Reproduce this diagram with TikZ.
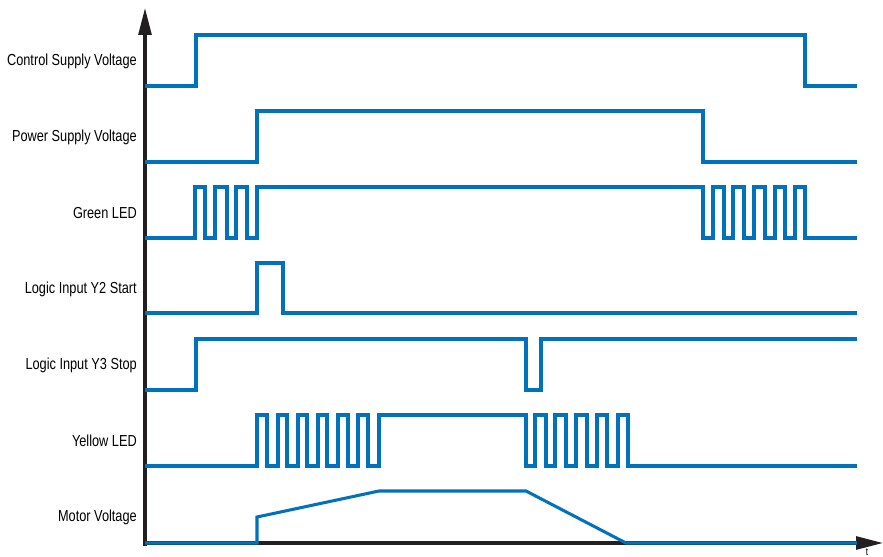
\documentclass[tikz,border=0pt]{standalone}
\usepackage{fontspec}
\setmainfont[FakeStretch=0.8]{Liberation Sans}
\usetikzlibrary{arrows.meta}
\definecolor{sigblue}{RGB}{0,114,188}
\definecolor{axisgray}{RGB}{35,31,32}
\tikzstyle{sig} = [draw=sigblue, line width=2.6pt]
\tikzstyle{axis} = [draw=axisgray, line width=2.6pt, -{Triangle[length=23pt,width=11pt]}]
\tikzstyle{lbl} = [anchor=east, inner sep=0pt, font=\fontsize{13.6}{16}\selectfont]

\begin{document}
\begin{tikzpicture}[x=0.03cm, y=-0.03cm]
\useasboundingbox (0,0) rectangle (883,557);
%axes
\coordinate (ybot) at (145,546);
\coordinate (ytop) at (145,8);
\coordinate (origin) at (145,543);
\coordinate (tend) at (883,543);
\draw[axis] (ybot) -- (ytop);
\draw[axis] (origin) -- (tend);
\node[inner sep=0pt, font=\fontsize{9}{10}\selectfont] (tlabel) at (867,552) {t};
%labels
\node[lbl] (control) at (137,61) {Control Supply Voltage};
\node[lbl] (power) at (137,137) {Power Supply Voltage};
\node[lbl] (green) at (137,213) {Green LED};
\node[lbl] (ytwo) at (137,289) {Logic Input Y2 Start};
\node[lbl] (ythree) at (137,365) {Logic Input Y3 Stop};
\node[lbl] (yellow) at (137,441) {Yellow LED};
\node[lbl] (motor) at (137,517) {Motor Voltage};
%begin control supply
\draw[sig] (145,86) -| (196,35) -| (805,86) -- (857,86);
%end control supply
%begin power supply
\draw[sig] (145,162) -| (257,111) -| (703,162) -- (857,162);
%end power supply
%begin green led
\draw[sig] (145,238) -| (195,187) -| (205,238) -| (215,187) -| (227,238)
    -| (236,187) -| (247,238) -| (257,187)
    -| (703,238) -| (713,187) -| (724,238) -| (733,187) -| (744,238)
    -| (754,187) -| (765,238) -| (775,187) -| (785,238) -| (795,187)
    -| (805,238) -- (857,238);
%end green led
%begin y2 start
\draw[sig] (145,313) -| (257,263) -| (283,313) -- (857,313);
%end y2 start
%begin y3 stop
\draw[sig] (145,390) -| (196,339) -| (526,390) -| (541,339) -- (857,339);
%end y3 stop
%begin yellow led
\draw[sig] (145,466) -| (257,415) -| (267,466) -| (278,415) -| (287,466)
    -| (298,415) -| (307,466) -| (318,415) -| (327,466) -| (338,415)
    -| (348,466) -| (358,415) -| (368,466) -| (379,415)
    -| (526,466) -| (535,415) -| (546,466) -| (555,415) -| (566,466)
    -| (576,415) -| (587,466) -| (597,415) -| (607,466) -| (618,415)
    -| (628,466) -- (857,466);
%end yellow led
%begin motor
\draw[sig] (origin) -| (257,517) -- (379,491) -- (526,491) -- (626,543) -- (857,543);
%end motor
\end{tikzpicture}
\end{document}
